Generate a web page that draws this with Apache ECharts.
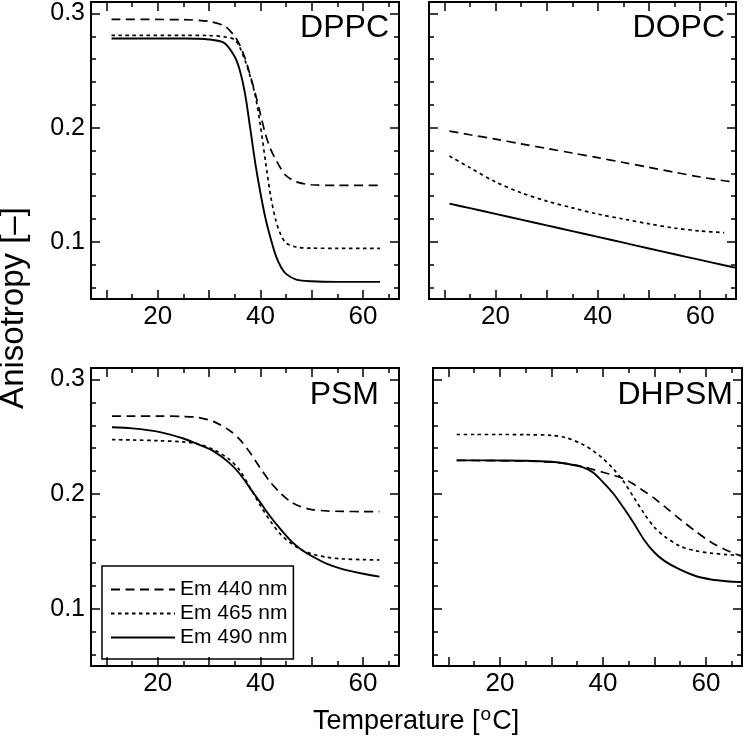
<!DOCTYPE html>
<html>
<head>
<meta charset="utf-8">
<script src="https://cdn.jsdelivr.net/npm/echarts@6/dist/echarts.min.js"></script>
<style>
html,body{margin:0;padding:0;background:#fff;}
#chart{width:744px;height:741px;}
</style>
</head>
<body>
<div id="chart"></div>
<script>
// ---------- data ----------
const seriesNames = ['Em 440 nm', 'Em 465 nm', 'Em 490 nm'];
const panelNames = ['DPPC', 'DOPC', 'PSM', 'DHPSM'];

const xLabelValues = [20, 40, 60];
const xMajorTicks = [10, 20, 30, 40, 50, 60];
const xMinorTicks = [10, 15, 20, 25, 30, 35, 40, 45, 50, 55, 60, 65];
const yLabelValues = [0.1, 0.2, 0.3];
const yMinorTicks = [0.06, 0.08, 0.10, 0.12, 0.14, 0.16, 0.18, 0.20, 0.22, 0.24, 0.26, 0.28, 0.30];

// DPPC
const tDPPC   = [11, 25, 30, 33, 35, 36, 37, 38, 39, 40, 41, 42, 43, 44, 45, 47, 50, 55, 63.3];
const dppc440 = [0.2948, 0.2945, 0.293, 0.289, 0.280, 0.272, 0.261, 0.246, 0.230, 0.212, 0.194, 0.181, 0.172, 0.164, 0.158, 0.1525, 0.150, 0.1495, 0.1495];
const dppc465 = [0.2808, 0.2808, 0.2806, 0.2795, 0.277, 0.270, 0.259, 0.245, 0.228, 0.202, 0.170, 0.140, 0.119, 0.106, 0.099, 0.0955, 0.0945, 0.0944, 0.0944];
const dppc490 = [0.278, 0.278, 0.2772, 0.274, 0.262, 0.250, 0.230, 0.200, 0.169, 0.143, 0.1205, 0.103, 0.088, 0.078, 0.072, 0.067, 0.0655, 0.065, 0.065];

// DOPC
const tDOPC   = [11, 15, 20, 25, 30, 35, 40, 45, 50, 55, 60, 64.7, 66.8];
const dopc440 = [0.197, 0.1938, 0.190, 0.1858, 0.1818, 0.1778, 0.1737, 0.1695, 0.1652, 0.161, 0.1568, 0.1535, 0.1522];
const dopc465 = [0.1752, 0.165, 0.1525, 0.143, 0.1357, 0.1298, 0.1243, 0.1200, 0.1158, 0.1121, 0.1095, 0.1081, null];
const dopc490 = [0.1335, 0.1295, 0.1245, 0.1195, 0.1145, 0.1094, 0.1044, 0.0993, 0.0942, 0.0892, 0.0842, 0.0795, 0.0775];

// PSM
const tPSM   = [11.1, 15, 20, 25, 28, 31, 34, 36, 38, 40, 42, 44, 46, 48, 50, 53, 56, 60, 63.2];
const psm440 = [0.268, 0.268, 0.268, 0.2677, 0.2668, 0.263, 0.2555, 0.2475, 0.236, 0.2225, 0.210, 0.2005, 0.193, 0.1888, 0.1865, 0.1853, 0.1849, 0.1847, 0.1846];
const psm465 = [0.2475, 0.2472, 0.2466, 0.2455, 0.2435, 0.2385, 0.2300, 0.2205, 0.2055, 0.190, 0.176, 0.1645, 0.157, 0.1515, 0.1478, 0.1448, 0.1435, 0.1428, 0.1425];
const psm490 = [0.2583, 0.2573, 0.2545, 0.2485, 0.2432, 0.2370, 0.227, 0.2175, 0.205, 0.1925, 0.180, 0.169, 0.159, 0.1515, 0.146, 0.139, 0.1345, 0.1305, 0.128];

// DHPSM
const tDHPSM   = [11.6, 15, 20, 25, 30, 33, 36, 38, 40, 42, 44, 46, 48, 50, 52, 55, 58, 61, 64, 66.8];
const dhpsm440 = [0.2294, 0.2293, 0.2291, 0.2288, 0.2278, 0.2265, 0.224, 0.2215, 0.219, 0.2165, 0.2135, 0.2085, 0.2025, 0.1962, 0.189, 0.178, 0.1675, 0.158, 0.151, 0.146];
const dhpsm465 = [0.252, 0.252, 0.252, 0.2518, 0.2512, 0.249, 0.2435, 0.238, 0.231, 0.222, 0.211, 0.197, 0.183, 0.171, 0.163, 0.1545, 0.1505, 0.1485, 0.1472, 0.1465];
const dhpsm490 = [0.2294, 0.2294, 0.2293, 0.2291, 0.2282, 0.2265, 0.2235, 0.219, 0.2105, 0.2005, 0.188, 0.1745, 0.160, 0.149, 0.1415, 0.134, 0.1285, 0.1255, 0.124, 0.1233];

// ---------- layout / style ----------
const FONT = '"Liberation Sans", Arial, Helvetica, sans-serif';
const panels = [
  {t: tDPPC,  v: [dppc440, dppc465, dppc490],    grid: {left: 91,  top: 2,   width: 308, height: 297}, yLabels: true,  title: {right: 355, top: 12}},
  {t: tDOPC,  v: [dopc440, dopc465, dopc490],    grid: {left: 429, top: 2,   width: 307, height: 297}, yLabels: false, title: {right: 19,  top: 12}},
  {t: tPSM,   v: [psm440, psm465, psm490],       grid: {left: 91,  top: 368, width: 308, height: 298}, yLabels: true,  title: {right: 365, top: 379}},
  {t: tDHPSM, v: [dhpsm440, dhpsm465, dhpsm490], grid: {left: 433, top: 368, width: 309, height: 298}, yLabels: false, title: {right: 11,  top: 379}}
];
const lineTypes = [[9, 5.5], [3.5, 3.5], 'solid'];
const lineWidths = [1.7, 1.7, 1.9];

const grids = [], xAxes = [], yAxes = [], series = [], titles = [];
const tickStyle = {color: '#000', width: 1.5};

panels.forEach((p, g) => {
  grids.push(Object.assign({show: true, borderColor: '#000', borderWidth: 2, containLabel: false}, p.grid));
  const xBase = {type: 'value', gridIndex: g, min: 7, max: 67, axisLine: {show: false}, splitLine: {show: false}};
  const yBase = {type: 'value', gridIndex: g, min: 0.05, max: 0.31, axisLine: {show: false}, splitLine: {show: false}};
  const xi = xAxes.length, yi = yAxes.length;
  xAxes.push(Object.assign({}, xBase, {position: 'bottom',
    axisTick: {show: true, inside: true, length: 9, customValues: xMajorTicks, lineStyle: tickStyle},
    axisLabel: {show: true, customValues: xLabelValues, fontSize: 26, color: '#000', fontFamily: FONT, margin: 5}}));
  xAxes.push(Object.assign({}, xBase, {position: 'bottom',
    axisTick: {show: true, inside: true, length: 5, customValues: xMinorTicks, lineStyle: tickStyle},
    axisLabel: {show: false}}));
  xAxes.push(Object.assign({}, xBase, {position: 'top',
    axisTick: {show: true, inside: true, length: 9, customValues: xMajorTicks, lineStyle: tickStyle},
    axisLabel: {show: false}}));
  xAxes.push(Object.assign({}, xBase, {position: 'top',
    axisTick: {show: true, inside: true, length: 5, customValues: xMinorTicks, lineStyle: tickStyle},
    axisLabel: {show: false}}));
  yAxes.push(Object.assign({}, yBase, {position: 'left',
    axisTick: {show: true, inside: true, length: 9, customValues: yLabelValues, lineStyle: tickStyle},
    axisLabel: {show: p.yLabels, customValues: yLabelValues, fontSize: 25, color: '#000', fontFamily: FONT, margin: 6,
      formatter: v => v.toFixed(1)}}));
  yAxes.push(Object.assign({}, yBase, {position: 'left',
    axisTick: {show: true, inside: true, length: 5, customValues: yMinorTicks, lineStyle: tickStyle},
    axisLabel: {show: false}}));
  yAxes.push(Object.assign({}, yBase, {position: 'right',
    axisTick: {show: true, inside: true, length: 9, customValues: yLabelValues, lineStyle: tickStyle},
    axisLabel: {show: false}}));
  yAxes.push(Object.assign({}, yBase, {position: 'right',
    axisTick: {show: true, inside: true, length: 5, customValues: yMinorTicks, lineStyle: tickStyle},
    axisLabel: {show: false}}));

  p.v.forEach((vals, k) => {
    series.push({
      type: 'line', name: seriesNames[k], xAxisIndex: xi, yAxisIndex: yi,
      data: p.t.map((t, i) => [t, vals[i]]),
      smooth: 0.3, showSymbol: false, symbol: 'none',
      connectNulls: false, animation: false, silent: true,
      lineStyle: {color: '#000', width: lineWidths[k], type: lineTypes[k]},
      itemStyle: {color: '#000'}
    });
  });

  titles.push({text: panelNames[g], right: p.title.right, top: p.title.top, padding: 0,
    textStyle: {fontSize: 32, fontWeight: 'normal', color: '#000', fontFamily: FONT, lineHeight: 32}});
});

titles.push({
  text: 'Temperature [{sup|o}C]', left: 313, top: 705, padding: 0,
  textStyle: {fontSize: 27, fontWeight: 'normal', color: '#000', fontFamily: FONT, lineHeight: 34,
    rich: {sup: {fontSize: 19, color: '#000', fontFamily: FONT, verticalAlign: 'top', lineHeight: 18, padding: [0, 1, 0, 1]}}}
});

const option = {
  animation: false,
  backgroundColor: '#fff',
  grid: grids,
  xAxis: xAxes,
  yAxis: yAxes,
  title: titles,
  legend: {
    show: true, orient: 'vertical', left: 102, top: 566,
    padding: [13, 6, 11, 8], borderColor: '#000', borderWidth: 1.5,
    itemWidth: 64, itemHeight: 14, itemGap: 3, selectedMode: false,
    itemStyle: {opacity: 0},
    data: seriesNames,
    textStyle: {fontSize: 21, color: '#000', fontFamily: FONT, lineHeight: 20}
  },
  graphic: [{
    type: 'text', x: 14, y: 308, rotation: Math.PI / 2,
    style: {text: 'Anisotropy [–]', font: '33px ' + FONT, fill: '#000',
      align: 'center', verticalAlign: 'middle', textAlign: 'center', textVerticalAlign: 'middle'}
  }],
  series: series
};

const chart = echarts.init(document.getElementById('chart'), null, {renderer: 'canvas'});
chart.setOption(option);
</script>
</body>
</html>
